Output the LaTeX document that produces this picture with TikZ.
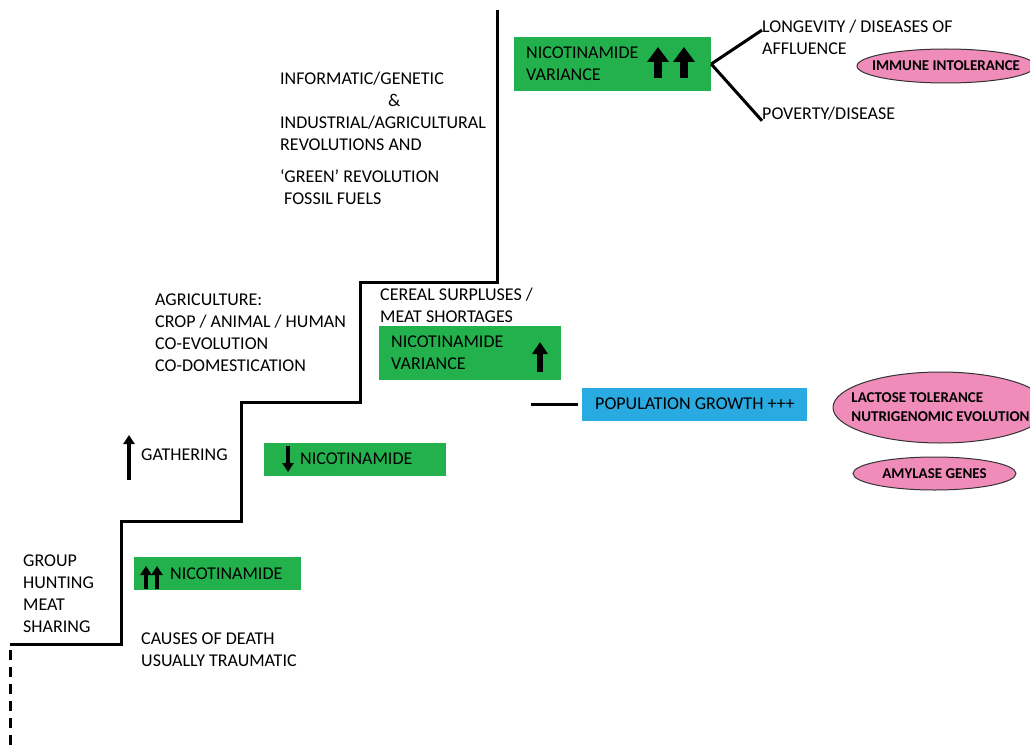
\documentclass[tikz,border=0pt]{standalone}
\usepackage{fontspec}
\setmainfont{Carlito}
\usepackage{xcolor}
\usepackage{tikz}
\usetikzlibrary{shapes.geometric,arrows.meta}

\definecolor{nicgreen}{HTML}{22B14C}
\definecolor{popblue}{HTML}{29ABE2}
\definecolor{genepink}{HTML}{F08CBA}

\begin{document}
\begin{tikzpicture}[
  x=1pt, y=-1pt,
  every node/.style={font=\fontsize{18}{22}\selectfont,inner sep=0pt},
  txt/.style={align=left,anchor=base west},
  stair/.style={line width=3pt},
  greenbox/.style={fill=nicgreen,minimum width=#1,minimum height=54},
  greenbar/.style={fill=nicgreen,minimum width=#1,minimum height=33},
  genes/.style={ellipse,draw=black!80,line width=1pt,fill=genepink,align=left,
    inner sep=-40pt,font=\bfseries\fontsize{15}{19}\selectfont},
  fatup/.style={line width=8pt,-{Triangle[length=15pt,width=21pt]}},
  midup/.style={line width=6pt,-{Triangle[length=12pt,width=15pt]}},
  thinup/.style={line width=4pt,-{Triangle[length=9pt,width=11pt]}}
  ]

\clip (0,0) rectangle (1030,749);

\draw[stair] (10,644) -- (121,644) -- (121,521) -- (241,521) -- (241,402)
  -- (360,402) -- (360,282) -- (497,282) -- (497,10);
\draw[line width=3pt,dash pattern=on 10pt off 7pt] (10,650) -- (10,749);

\node[greenbox=197] (nicvar2) at (612.5,64) {};
\node[txt] (nicvar2txt) at (526,80.8) {NICOTINAMIDE\\VARIANCE};
\draw[fatup] (658,78) -- (658,47);
\draw[fatup] (684,78) -- (684,47);

\node[txt] (longev) at (762,54.8) {LONGEVITY / DISEASES OF\\AFFLUENCE};
\node[txt] (poverty) at (762,119.8) {POVERTY/DISEASE};
\coordinate (longevend) at ([yshift=-10]longev.north west);
\draw[line width=3pt] (nicvar2.east) -- (longevend);
\draw[line width=3pt] (nicvar2.east) -- (poverty.south west);
\node[genes,minimum width=178,minimum height=34] (immune) at (946,66) {IMMUNE INTOLERANCE};

\node[txt] (revol) at (280,204.8) {INFORMATIC/GENETIC\\\hspace*{108pt}\&\\INDUSTRIAL/AGRICULTURAL\\REVOLUTIONS AND\\[10pt]%
  `GREEN' REVOLUTION\\\hspace*{4pt}FOSSIL FUELS};

\node[txt] (cereal) at (380,322.8) {CEREAL SURPLUSES /\\MEAT SHORTAGES};
\node[greenbox=182] (nicvar1) at (470,353) {};
\node[txt] (nicvar1txt) at (391,369.8) {NICOTINAMIDE\\VARIANCE};
\draw[midup] (540,372) -- (540,342);

\node[txt] (agri) at (155,371.8) {AGRICULTURE:\\CROP / ANIMAL / HUMAN\\CO-EVOLUTION\\CO-DOMESTICATION};

\coordinate (popstart) at (531,404.5);
\node[fill=popblue,minimum width=225,minimum height=33] (pop) at (694.5,404.5) {};
\node[txt] (poptxt) at (595,409.8) {POPULATION GROWTH +++};
\draw[line width=3pt] (popstart) -- ([xshift=-4]pop.west);

\node[genes,minimum width=215,minimum height=71] (lactose) at (940.5,407.5) {LACTOSE TOLERANCE\\NUTRIGENOMIC EVOLUTION};
\node[genes,minimum width=163,minimum height=33] (amylase) at (934.5,473.5) {AMYLASE GENES};

\node[txt] (gathering) at (141,460.8) {GATHERING};
\draw[thinup] (129,480) -- (129,435);
\node[greenbar=182] (nicdown) at (355,459.5) {};
\node[txt] (nicdowntxt) at (300,464.8) {NICOTINAMIDE};
\draw[thinup] (288,446) -- (288,472);

\node[txt] (hunting) at (23,632.8) {GROUP\\HUNTING\\MEAT\\SHARING};
\node[greenbar=167] (nicup) at (217.5,573.5) {};
\node[txt] (nicuptxt) at (170,579.8) {NICOTINAMIDE};
\draw[thinup] (146,589) -- (146,566);
\draw[thinup] (157,589) -- (157,566);
\node[txt] (causes) at (141,666.8) {CAUSES OF DEATH\\USUALLY TRAUMATIC};

\end{tikzpicture}
\end{document}
